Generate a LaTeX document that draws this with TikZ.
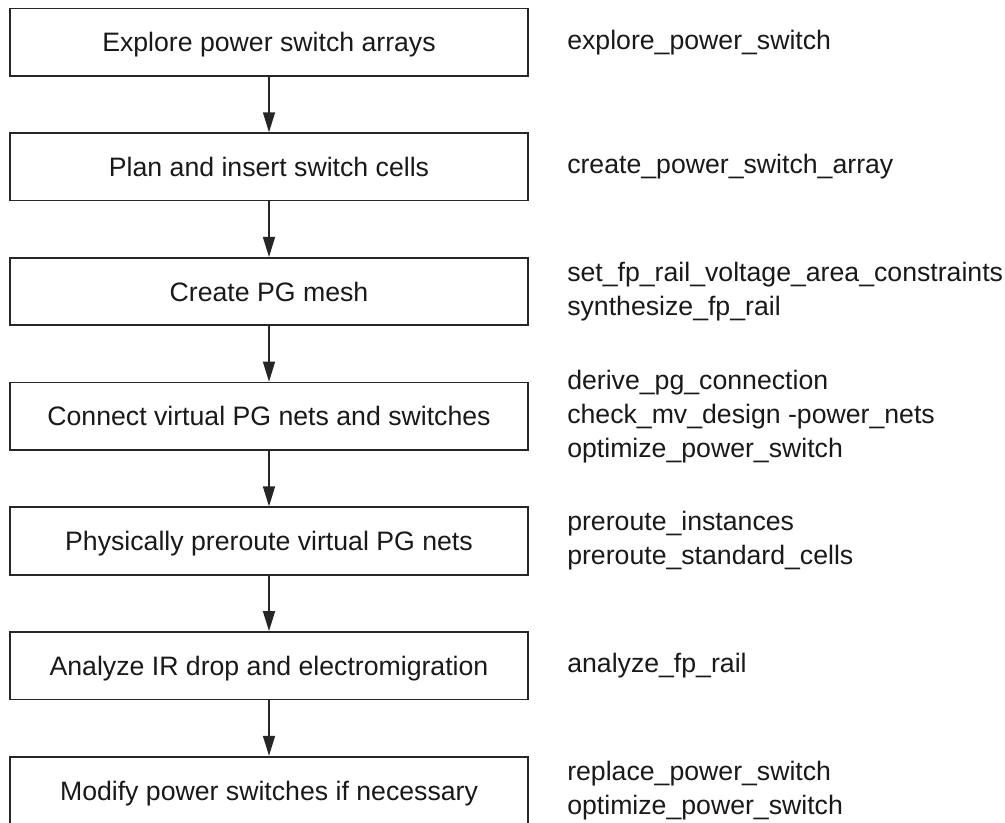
\documentclass[tikz,border=0pt]{standalone}
\usepackage{fontspec}
\setmainfont{Liberation Sans}
\usetikzlibrary{arrows.meta}
\begin{document}
\begin{tikzpicture}[x=0.75pt,y=-0.75pt,
  stepbox/.style={draw=black!85, line width=1.3pt, minimum width=388.5pt,
    minimum height=50.6pt, inner sep=0pt, text=black!90,
    font=\fontsize{20}{25.5}\selectfont, text height=14.4pt, text depth=0pt},
  cmd/.style={anchor=west, inner sep=0pt, align=left, text=black!90,
    font=\fontsize{20}{25.5}\selectfont},
  flow/.style={draw=black!85, line width=1.1pt,
    -{Triangle[length=15pt,width=9pt]}}]
\useasboundingbox (0,0) rectangle (1005,823);
\clip (0,0) rectangle (1005,823);
\node[stepbox] (b1) at (269,42.2)  {Explore power switch arrays};
\node[stepbox] (b2) at (269,166.9) {Plan and insert switch cells};
\node[stepbox] (b3) at (269,291.6) {Create PG mesh};
\node[stepbox] (b4) at (269,416.3) {Connect virtual PG nets and switches};
\node[stepbox] (b5) at (269,541.0) {Physically preroute virtual PG nets};
\node[stepbox] (b6) at (269,665.7) {Analyze IR drop and electromigration};
\node[stepbox] (b7) at (269,790.4) {Modify power switches if necessary};
\draw[flow] (b1) -- (b2);
\draw[flow] (b2) -- (b3);
\draw[flow] (b3) -- (b4);
\draw[flow] (b4) -- (b5);
\draw[flow] (b5) -- (b6);
\draw[flow] (b6) -- (b7);
\node[cmd] (c1) at (567,42.2)  {explore\_power\_switch};
\node[cmd] (c2) at (567,166.9) {create\_power\_switch\_array};
\node[cmd] (c3) at (567,291.6) {set\_fp\_rail\_voltage\_area\_constraints\\synthesize\_fp\_rail};
\node[cmd] (c4) at (567,416.3) {derive\_pg\_connection\\check\_mv\_design -power\_nets\\optimize\_power\_switch};
\node[cmd] (c5) at (567,541.0) {preroute\_instances\\preroute\_standard\_cells};
\node[cmd] (c6) at (567,665.7) {analyze\_fp\_rail};
\node[cmd] (c7) at (567,790.4) {replace\_power\_switch\\optimize\_power\_switch};
\end{tikzpicture}
\end{document}
